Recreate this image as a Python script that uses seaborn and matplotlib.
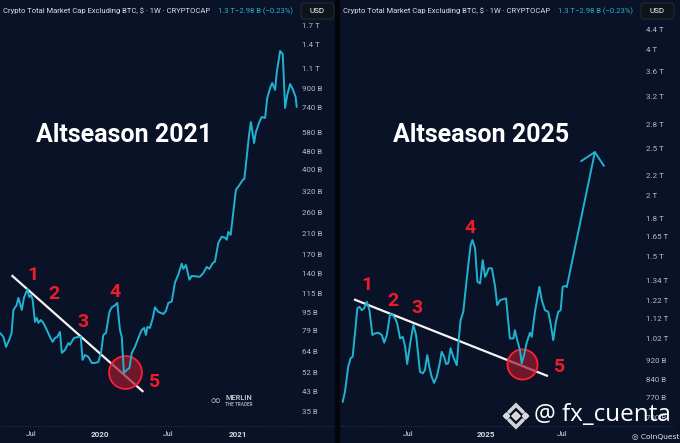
import numpy as np
import pandas as pd
import matplotlib
matplotlib.use('Agg')
import matplotlib.pyplot as plt
from matplotlib.patches import Rectangle, FancyBboxPatch, RegularPolygon
import seaborn as sns

# ---- data (billions of USD) ----
# x is given as weeks since the first bar of each panel
left_start = '2019-04-10'
left_weeks = [0, 1.3, 2.3, 3.5, 4.4, 5.1, 6.3, 7.0, 8.3, 9.1,
              10.4, 11.1, 11.8, 12.4, 13.3, 14.0, 14.6, 15.5, 16.5, 17.8,
              19.0, 20.0, 20.9, 21.8, 22.8, 23.5, 24.7, 26.0, 26.6, 28.1,
              29.8, 30.7, 31.4, 32.3, 33.6, 34.9, 36.1, 37.4, 38.4, 39.3,
              40.3, 41.6, 42.5, 43.7, 44.6, 45.6, 46.3, 47.1, 48.2, 49.2,
              50.1, 51.3, 52.6, 53.9, 54.8, 55.5, 56.0, 57.0, 58.1, 58.9,
              60.2, 62.1, 63.1, 64.0, 65.3, 66.5, 67.8, 69.1, 69.7, 70.7,
              72.0, 72.9, 75.4, 76.0, 77.3, 78.6, 79.6, 80.9, 81.7, 83.0,
              84.3, 85.6, 86.2, 86.8, 87.7, 88.7, 89.7, 91.0, 92.3, 92.9,
              93.8, 94.7, 95.4, 96.6, 97.3, 98.6, 99.5, 100.8, 101.6, 102.7,
              103.5, 104.6, 105.2, 106.5, 107.5, 108.4, 109.2, 110.3, 111.3, 112.4,
              112.8]
left_values = [77.3, 74.3, 67.2, 72.1, 77.3, 97.4, 102, 110, 97.4, 110,
               120, 111, 113, 108, 86.4, 89.9, 85.5, 88.1, 85.5, 79.7,
               74.3, 70.7, 73.5, 74.3, 78.1, 63.3, 65.2, 69.9, 68.6, 73.5,
               74.3, 74.3, 59, 62, 60.8, 57.2, 57.2, 57.8, 63.3, 75.8,
               77.3, 95.5, 100, 102, 104.5, 79.7, 74.3, 51.8, 53.3, 54.4,
               63.3, 67.2, 73.5, 79.7, 81.3, 75.8, 82.1, 81.3, 89.9, 100,
               95.5, 93.5, 96.5, 104.5, 106, 128, 139, 155, 147, 153,
               132, 137, 136, 136, 141, 150, 147, 156, 158, 191,
               203, 201, 197, 213, 207, 260, 325, 341, 359, 363,
               452, 564, 642, 520, 581, 642, 675, 669, 817, 903,
               950, 886, 1050, 1310, 1270, 739, 842, 940, 894, 825,
               747]

right_start = '2024-01-25'
right_weeks = [0.24, 1.0, 2.1, 2.9, 3.6, 4.4, 5.2, 5.9, 6.7, 7.5,
               8.4, 9.3, 10.3, 11.2, 12.3, 13.5, 14.3, 15.2, 16.3, 17.2,
               18.0, 18.7, 19.7, 20.6, 21.4, 22.1, 23.1, 24.2, 25.1, 25.9,
               26.4, 27.4, 28.1, 28.9, 29.6, 30.4, 31.2, 32.1, 33.0, 33.8,
               34.6, 35.3, 36.0, 36.8, 37.7, 38.9, 39.6, 40.2, 41.1, 42.0,
               42.8, 43.6, 44.2, 45.1, 45.9, 46.8, 47.7, 48.5, 49.1, 49.7,
               50.8, 51.9, 52.6, 53.6, 55.6, 56.9, 58.1, 58.6, 59.4, 60.3,
               60.9, 61.7, 62.6, 63.7, 64.3, 65.4, 66.9, 67.7, 68.8, 69.9,
               70.7, 71.6, 72.5, 73.3, 74.1, 74.8, 75.6, 76.2]
right_values = [755, 792, 891, 928, 935, 1044, 1175, 1184, 1165, 1175,
                1212, 1165, 1036, 1044, 1047, 1036, 999, 1036, 1144, 1138,
                1121, 1094, 1019, 1027, 980, 903, 996, 1086, 1036, 935,
                871, 864, 878, 942, 891, 850, 826, 850, 898, 957,
                935, 903, 906, 973, 935, 898, 1019, 1112, 1156, 1301,
                1442, 1585, 1623, 1561, 1332, 1322, 1476, 1364, 1387, 1420,
                1420, 1301, 1193, 1222, 1232, 1019, 1019, 1060, 1011, 965,
                906, 942, 999, 1047, 1027, 1156, 1301, 1222, 1165, 1156,
                1094, 1011, 1103, 1156, 1165, 1301, 1306, 1301]

# projection arrow target (right panel)
target_week = 85.8
target_value = 2475

# falling trendlines (two points each)
left_trend_weeks = [4.4, 54.5]
left_trend_values = [138, 42.8]
right_trend_weeks = [4.07, 69.8]
right_trend_values = [1226, 853]

# wave count labels and the circled low
wave_labels = ['1', '2', '3', '4', '5']
left_wave_weeks = [12.5, 20.5, 31.6, 43.7, 58.6]
left_wave_values = [138, 114, 86.4, 117, 47.3]
right_wave_weeks = [8.4, 17.4, 25.3, 43.4, 73.9]
right_wave_values = [1312, 1218, 1175, 1715, 891]
left_low = (47.5, 52.3)
right_low = (60.9, 903)

# price scale ticks
left_ticks = [1700, 1400, 1100, 900, 740, 580, 480, 400, 320, 260, 210, 170,
              140, 115, 95, 79, 64, 52, 43, 35]
left_tick_labels = ['1.7 T', '1.4 T', '1.1 T', '900 B', '740 B', '580 B', '480 B',
                    '400 B', '320 B', '260 B', '210 B', '170 B', '140 B', '115 B',
                    '95 B', '79 B', '64 B', '52 B', '43 B', '35 B']
right_ticks = [4400, 4000, 3600, 3200, 2800, 2500, 2200, 2000, 1800, 1650, 1500,
               1340, 1220, 1120, 1020, 920, 840, 770, 700]
right_tick_labels = ['4.4 T', '4 T', '3.6 T', '3.2 T', '2.8 T', '2.5 T', '2.2 T', '2 T',
                     '1.8 T', '1.65 T', '1.5 T', '1.34 T', '1.22 T', '1.12 T', '1.02 T',
                     '920 B', '840 B', '770 B', '700 B']

left_xticks = ['2019-07-01', '2020-01-01', '2020-07-01', '2021-01-01']
left_xtick_labels = ['Jul', '2020', 'Jul', '2021']
right_xticks = ['2024-07-01', '2025-01-01', '2025-07-01']
right_xtick_labels = ['Jul', '2025', 'Jul']

BG = '#0a1228'
CYAN = '#1fb3d1'
RED = '#ee1c2b'
TXT = '#b8bbc4'


def to_dates(start, weeks):
    return pd.Timestamp(start) + pd.to_timedelta(np.array(weeks) * 7, unit='D')


sns.set_theme(style='dark', rc={'axes.facecolor': BG, 'figure.facecolor': BG})
plt.rcParams['font.family'] = ['Roboto', 'DejaVu Sans']

fig = plt.figure(figsize=(6.8, 4.43), dpi=100)


def draw_panel(rect, start, weeks, values, xlim_weeks, ylim, trend, wave_w, wave_v,
               low, low_size, ticks, tick_labels, xticks, xtick_labels, title, title_x, ypad):
    ax = fig.add_axes(rect)
    ax.set_facecolor(BG)
    df = pd.DataFrame({'date': to_dates(start, weeks), 'cap': values})

    # trendline under everything
    ax.plot(to_dates(start, trend[0]), trend[1], color='#f4f4f4', lw=1.6, zorder=2,
            solid_capstyle='butt')
    # circled low
    ax.scatter(to_dates(start, [low[0]]), [low[1]], s=low_size, facecolor=(0.62, 0.1, 0.18, 0.7),
               edgecolor='#ff1f30', linewidth=1.3, zorder=3)
    sns.lineplot(data=df, x='date', y='cap', ax=ax, color=CYAN, linewidth=1.4,
                 zorder=4, sort=False)

    for lab, w, v in zip(wave_labels, wave_w, wave_v):
        ax.text(to_dates(start, [w])[0], v, lab, color=RED, fontsize=14,
                fontweight='bold', ha='center', va='center', zorder=5)

    ax.text(title_x, 0.72, title, transform=ax.transAxes, color='white', fontsize=18,
            fontweight='bold', ha='center', va='center', zorder=5)

    ax.set_yscale('log')
    ax.set_ylim(*ylim)
    ax.set_xlim(to_dates(start, xlim_weeks))
    ax.yaxis.tick_right()
    ax.set_yticks(ticks)
    ax.set_yticklabels(tick_labels)
    ax.yaxis.set_minor_locator(matplotlib.ticker.NullLocator())
    ax.set_xticks(pd.to_datetime(xticks))
    ax.set_xticklabels(xtick_labels)
    for t in ax.get_xticklabels():
        if t.get_text() != 'Jul':
            t.set_fontweight('bold')
    ax.tick_params(axis='y', length=0, pad=ypad, labelsize=5.7, colors=TXT)
    ax.tick_params(axis='x', length=0, pad=4.5, labelsize=5.8, colors='#d6d8de')
    ax.set_xlabel('')
    ax.set_ylabel('')
    ax.grid(False)
    for s in ax.spines.values():
        s.set_visible(False)
    return ax


ax1 = draw_panel([0, 18 / 443, 298 / 680, 403 / 443], left_start, left_weeks, left_values,
                 [0, 113.3], (30.7, 1752), (left_trend_weeks, left_trend_values),
                 left_wave_weeks, left_wave_values, left_low, 560,
                 left_ticks, left_tick_labels, left_xticks, left_xtick_labels,
                 'Altseason 2021', 0.416, 3)

ax2 = draw_panel([341 / 680, 18 / 443, 299 / 680, 403 / 443], right_start, right_weeks, right_values,
                 [-0.34, 101.0], (677, 4549), (right_trend_weeks, right_trend_values),
                 right_wave_weeks, right_wave_values, right_low, 470,
                 right_ticks, right_tick_labels, right_xticks, right_xtick_labels,
                 'Altseason 2025', 0.468, 4)

# projection arrow from the last close
ax2.annotate('', xy=(to_dates(right_start, [target_week])[0], target_value),
             xytext=(to_dates(right_start, [right_weeks[-1]])[0], right_values[-1]),
             arrowprops=dict(arrowstyle='->,head_length=0.6,head_width=0.6', color=CYAN,
                             lw=1.4, shrinkA=0, shrinkB=0, mutation_scale=14), zorder=4)

# ---- overlay in pixel coordinates for the chrome ----
ov = fig.add_axes([0, 0, 1, 1], zorder=10)
ov.set_xlim(0, 680)
ov.set_ylim(443, 0)
ov.axis('off')
ov.patch.set_alpha(0)

# panel separator
ov.add_patch(Rectangle((335, 0), 4, 443, color='#04060c', zorder=1))

for off in (0, 340):
    ov.text(3 + off, 11, 'Crypto Total Market Cap Excluding BTC, $ · 1W · CRYPTOCAP',
            color='#dfe1e6', fontsize=5.5, va='center')
    ov.text(218 + off, 11, '1.3 T', color='#2fb0cc', fontsize=5.5, va='center')
    ov.text(235 + off, 11, '−2.98 B (−0.23%)', color='#2fb0cc', fontsize=5.5, va='center')
    # dotted bottom border
    ov.plot([off, off + 335], [425.7, 425.7], color='#3a4255', lw=0.6, ls=(0, (1, 2)))

for bx in (301, 641):
    ov.add_patch(FancyBboxPatch((bx, 3), 33, 16, boxstyle='round,pad=0,rounding_size=3',
                                facecolor='#0f131c', edgecolor='#2a2f3c', lw=0.6))
    ov.text(bx + 16.5, 11, 'USD', color='white', fontsize=5.8, ha='center', va='center')

# merlin logo
ov.text(215, 401, '∞', color='#a9acb4', fontsize=10, ha='center', va='center',
        family=['DejaVu Sans'])
ov.text(225, 398.5, 'MERLIN', color='#b9bcc4', fontsize=5.3, fontweight='bold', va='center')
ov.text(225, 405, 'THE TRADER', color='#9da0a8', fontsize=3.4, fontweight='bold', va='center')

# binance style watermark
wm = '#e9eaee'
ov.add_patch(RegularPolygon((516, 416), 4, radius=4.2, orientation=0, color=wm, alpha=0.9))
for dx, dy in ((-9.5, 0), (9.5, 0)):
    ov.add_patch(RegularPolygon((516 + dx, 416 + dy), 4, radius=3.2, orientation=0,
                                color=wm, alpha=0.9))
ov.plot([509, 516, 523], [412, 405, 412], color=wm, lw=2.6, alpha=0.9, solid_joinstyle='miter')
ov.plot([509, 516, 523], [420, 427, 420], color=wm, lw=2.6, alpha=0.9, solid_joinstyle='miter')
ov.text(534, 415, '@ fx_cuenta', color='white', fontsize=17.5, va='center',
        family=['Open Sans', 'DejaVu Sans'])
ov.text(679, 437.5, '◎ CoinQuest', color='#e4e5e9', fontsize=5.4, ha='right', va='center',
        family=['DejaVu Sans'])

fig.savefig('out.png', dpi=100, facecolor=BG)
